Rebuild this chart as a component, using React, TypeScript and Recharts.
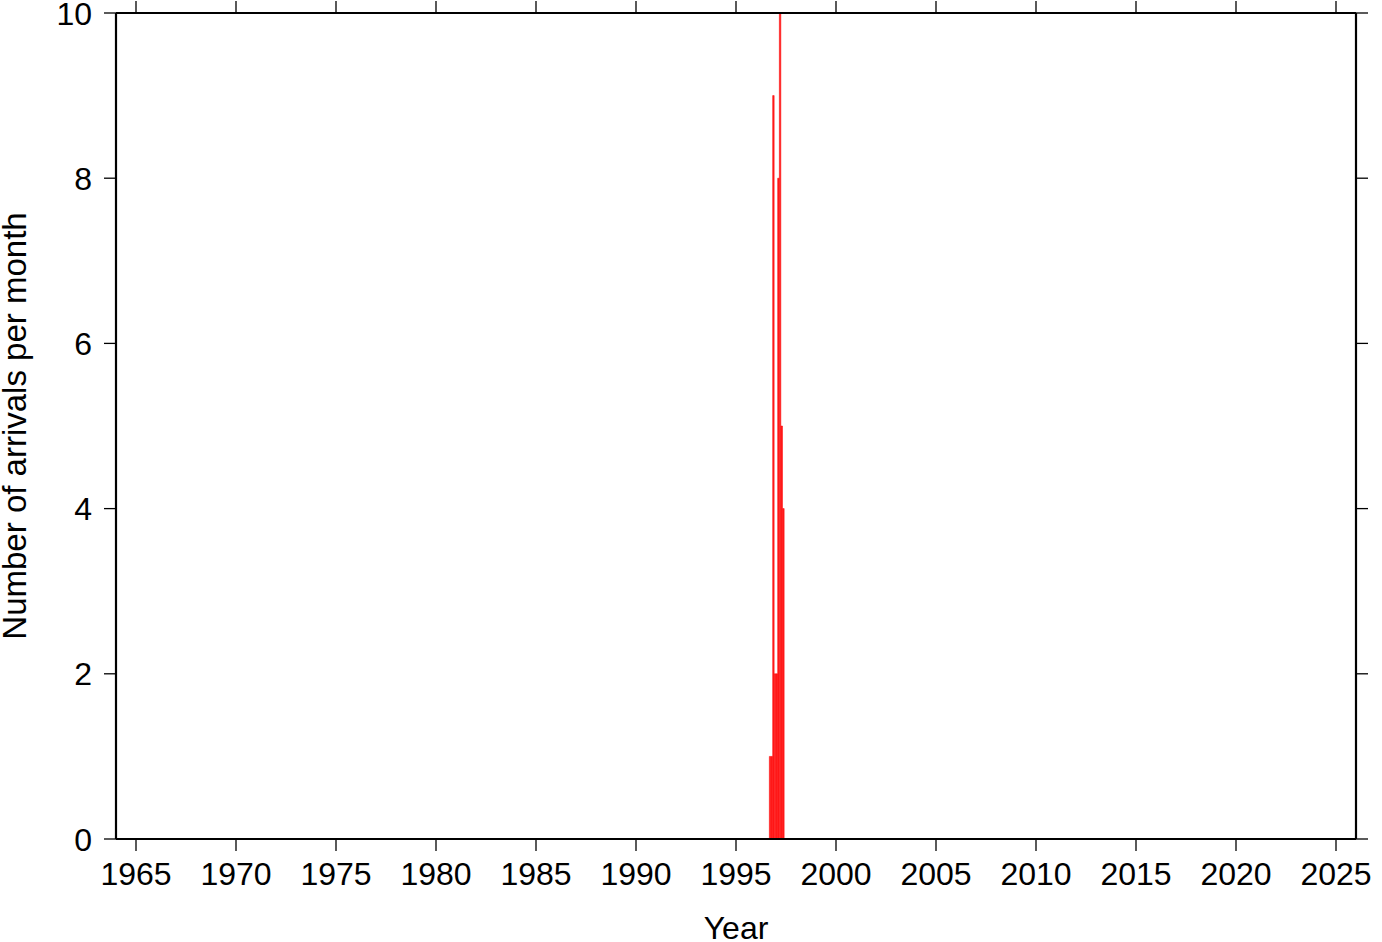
import React from 'react';
import { BarChart, Bar, XAxis, YAxis } from 'recharts';

// Month start (decimal year) of each bin and number of arrivals
const monthYears = [1996, 1996, 1996, 1996, 1997, 1997, 1997, 1997, 1997];
const monthIndex = [8, 9, 10, 11, 0, 1, 2, 3, 4];
const arrivals = [1, 1, 9, 2, 2, 8, 10, 5, 4];

const xTicks = [1965, 1970, 1975, 1980, 1985, 1990, 1995, 2000, 2005, 2010, 2015, 2020, 2025];
const yTicks = [0, 2, 4, 6, 8, 10];
const xDomain = [1964, 2026];
const yDomain = [0, 10];

const data = arrivals.map((v, i) => ({
  t: monthYears[i] + (monthIndex[i] + 0.5) / 12,
  value: v,
}));

const FONT = '"Liberation Sans", Arial, Helvetica, sans-serif';
const W = 1382;
const H = 942;
const margin = { top: 0, right: 0, left: 0, bottom: 0 };
const plotW = W - 116 - 26;
const barW = plotW / (xDomain[1] - xDomain[0]) / 12;

const axisLine = { stroke: '#000', strokeWidth: 2.2 };
const tickLine = { stroke: '#000', strokeWidth: 1.3 };

const XTick = (props: any) => {
  const { x, y, payload } = props;
  return (
    <text x={x} y={y + 32} textAnchor="middle"
      style={{ fontSize: 32, fontFamily: FONT, fill: '#000' }}>
      {payload.value}
    </text>
  );
};

const YTick = (props: any) => {
  const { x, y, payload } = props;
  return (
    <text x={x - 10} y={y} dy="0.36em" textAnchor="end"
      style={{ fontSize: 32, fontFamily: FONT, fill: '#000' }}>
      {payload.value}
    </text>
  );
};

const NoTick = () => <g />;

const YLabel = (props: any) => {
  const vb = props.viewBox || {};
  const x = vb.x + 14;
  const y = vb.y + vb.height / 2;
  return (
    <text x={x} y={y} dy="0.36em" transform={`rotate(-90 ${x} ${y})`} textAnchor="middle"
      style={{ fontSize: 33, fontFamily: FONT, fill: '#000' }}>
      Number of arrivals per month
    </text>
  );
};

const XLabel = (props: any) => {
  const vb = props.viewBox || {};
  const x = vb.x + vb.width / 2;
  const y = vb.y + 88;
  return (
    <text x={x} y={y} dy="0.36em" textAnchor="middle"
      style={{ fontSize: 32, fontFamily: FONT, fill: '#000' }}>
      Year
    </text>
  );
};

export default function App() {
  return (
    <div style={{ position: 'absolute', left: 0, top: 0, width: W, height: H }}>
      <BarChart width={W} height={H} data={data} margin={margin} barGap={0} barCategoryGap={0}>
        <XAxis xAxisId="b" dataKey="t" type="number" domain={xDomain} ticks={xTicks} allowDataOverflow
          orientation="bottom" height={103} tickSize={12} interval={0}
          tick={<XTick />} axisLine={axisLine} tickLine={tickLine} label={<XLabel />} />
        <XAxis xAxisId="t" dataKey="t" type="number" domain={xDomain} ticks={xTicks} allowDataOverflow
          orientation="top" height={13} tickSize={12} tick={<NoTick />} interval={0}
          axisLine={axisLine} tickLine={tickLine} />
        <YAxis yAxisId="l" dataKey="value" type="number" domain={yDomain} ticks={yTicks} width={116} tickSize={12}
          interval={0} tick={<YTick />} axisLine={axisLine} tickLine={tickLine} label={<YLabel />} />
        <YAxis yAxisId="r" dataKey="value" orientation="right" type="number" domain={yDomain} ticks={yTicks}
          width={26} tickSize={12} tick={<NoTick />} interval={0} axisLine={axisLine} tickLine={tickLine} />
        <Bar xAxisId="b" yAxisId="l" dataKey="value" fill="#ff2020" stroke="#ff0000" strokeWidth={0.5}
          barSize={barW} isAnimationActive={false} />
      </BarChart>
    </div>
  );
}
